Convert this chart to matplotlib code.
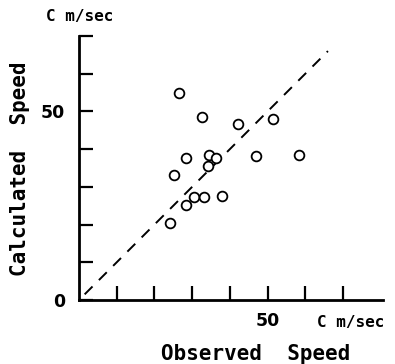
import matplotlib
matplotlib.use("Agg")
import matplotlib.pyplot as plt

# observed vs calculated speed (cm/sec)
observed = [26.5, 32.5, 42.1, 51.5, 28.3, 34.5, 36.4, 34.1, 46.9, 58.4,
            25.2, 28.4, 30.6, 33.2, 37.9, 24.2]
calculated = [54.8, 48.5, 46.6, 48.1, 37.6, 38.5, 37.6, 35.6, 38.2, 38.4,
              33.1, 25.2, 27.2, 27.2, 27.7, 20.4]

# 1:1 reference line
line_x = [1.5, 66]
line_y = [1.5, 66]

x_ticks = [10, 20, 30, 40, 50, 60, 70]
x_labels = ["", "", "", "", "50", "", ""]
y_ticks = [0, 10, 20, 30, 40, 50, 60, 70]
y_labels = ["0", "", "", "", "", "50", "", ""]

plt.rcParams["lines.scale_dashes"] = False
W, H = 395, 364
fig = plt.figure(figsize=(W / 100, H / 100), dpi=100)
ax = fig.add_axes([79 / W, (H - 300) / H, (383 - 79) / W, (300 - 36) / H])

ax.plot(observed, calculated, "o", ms=7, mfc="white", mec="black", mew=1.3,
        zorder=3, clip_on=False)
ax.plot(line_x, line_y, color="black", lw=1.4, dashes=[8, 6.5])

ax.set_xlim(0, 80.6)
ax.set_ylim(0, 70)
for s in ["top", "right"]:
    ax.spines[s].set_visible(False)
for s in ["left", "bottom"]:
    ax.spines[s].set_linewidth(2)

ax.set_xticks(x_ticks)
ax.set_xticklabels(x_labels)
ax.set_yticks(y_ticks)
ax.set_yticklabels(y_labels)
ax.tick_params(direction="in", length=10, width=1.6, labelsize=12.5)
ax.tick_params(axis="x", pad=9)
ax.tick_params(axis="y", pad=10)
for lab in ax.get_xticklabels() + ax.get_yticklabels():
    lab.set_family("DejaVu Sans")
    lab.set_weight("bold")

mono = dict(family="DejaVu Sans Mono", color="black", ha="center")
fig.text(80 / W, 1 - 17 / H, "C m/sec", fontsize=11.5, weight="bold",
         va="center", **mono)
fig.text(351 / W, 1 - 322 / H, "C m/sec", fontsize=11.5, weight="bold",
         va="center", **mono)
fig.text(256 / W, 1 - 360 / H, "Observed  Speed", fontsize=15, weight="bold",
         va="baseline", **mono)
fig.text(20 / W, 1 - 169 / H, "Calculated  Speed", rotation=90, fontsize=15,
         weight="bold", va="center", **mono)

fig.savefig("out.png", dpi=100)
